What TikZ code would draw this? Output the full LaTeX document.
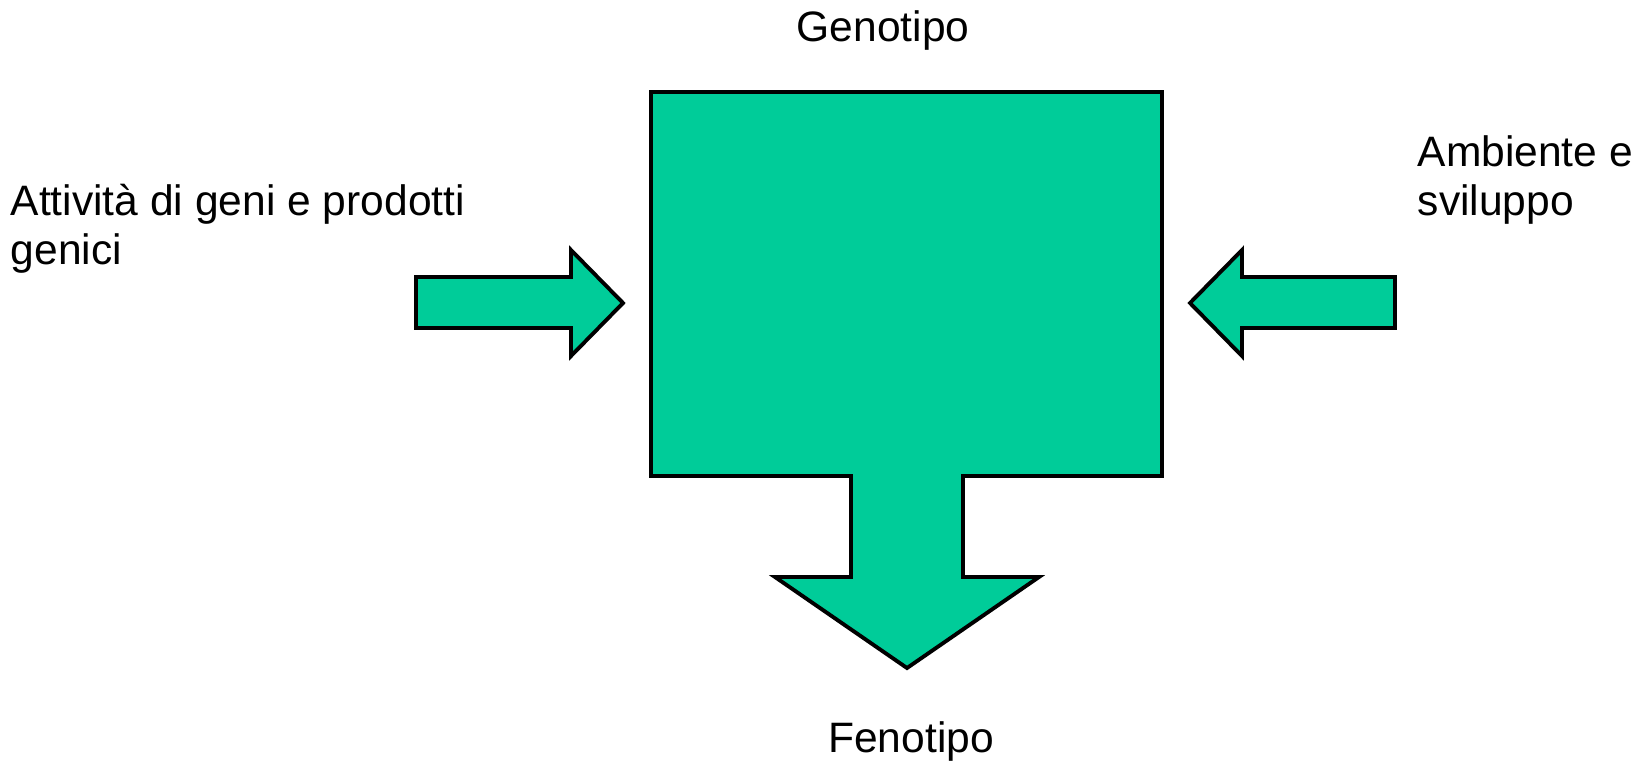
\documentclass[tikz,border=0pt]{standalone}
\usepackage{fontspec}
\setmainfont{Liberation Sans}
\definecolor{genegreen}{RGB}{0,204,153}

\begin{document}
\begin{tikzpicture}[x=0.01cm,y=-0.01cm,
      every node/.style={font=\fontsize{12.1}{13.7}\selectfont,inner sep=0pt,align=left},
      blockarrow/.style={draw=black,line width=1.1pt,fill=genegreen,line join=miter}]
    \useasboundingbox (0,0) rectangle (1643,763);
    % genotype box with the arrow down to the phenotype
    \draw[blockarrow] (651,92) -- (1162,92) -- (1162,476) -- (963,476)
        -- (963,577) -- (1039,577) -- (907,668) -- (775,577) -- (851,577)
        -- (851,476) -- (651,476) -- cycle;
    % arrows coming in
    \draw[blockarrow] (416,277) -- (571,277) -- (571,250) -- (623,303)
        -- (571,356) -- (571,328) -- (416,328) -- cycle;
    \draw[blockarrow] (1395,277) -- (1242,277) -- (1242,250) -- (1190,303)
        -- (1242,356) -- (1242,328) -- (1395,328) -- cycle;
    % labels (base = last line)
    \node[anchor=base] (genotipo) at (883,41) {Genotipo};
    \node[anchor=base] (fenotipo) at (911,752) {Fenotipo};
    \node[anchor=base west] (geni) at (10,264) {Attività di geni e prodotti\\genici};
    \node[anchor=base west] (ambiente) at (1417,215) {Ambiente e\\sviluppo};
  \end{tikzpicture}
\end{document}
